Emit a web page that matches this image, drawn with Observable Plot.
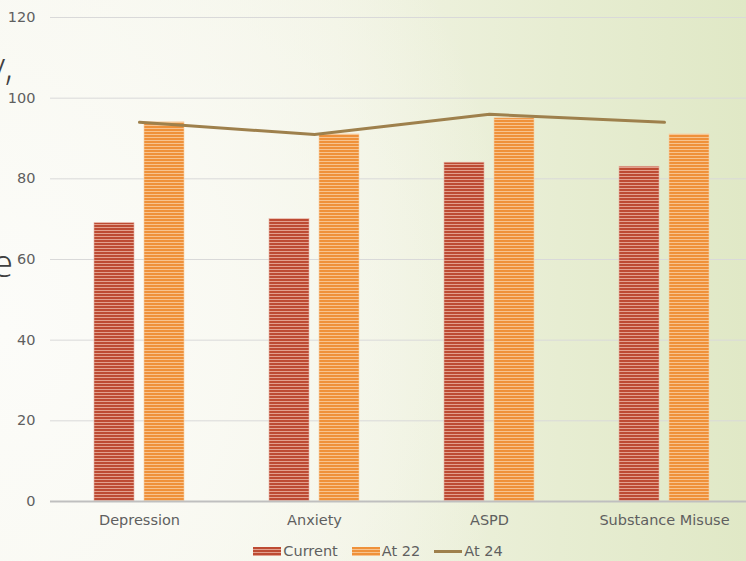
<!DOCTYPE html>
<html>
<head>
<meta charset="utf-8">
<script src="https://cdn.jsdelivr.net/npm/d3@7"></script>
<script src="https://cdn.jsdelivr.net/npm/@observablehq/plot@0.6"></script>
<style>
  html, body { margin: 0; padding: 0; }
  #slide {
    position: relative;
    width: 746px;
    height: 561px;
    overflow: hidden;
    font-family: "DejaVu Sans", sans-serif;
    background:
      radial-gradient(ellipse 520px 620px at 0px 330px, rgba(252,252,249,1) 0%, rgba(250,250,244,0.85) 45%, rgba(250,250,244,0) 100%),
      linear-gradient(90deg, #f8f8f2 0%, #f1f3e3 45%, #e7edd2 75%, #e0e8c6 100%);
  }
  #chart { position: absolute; left: 0; top: 0; }
  .frag {
    position: absolute;
    font-family: "Open Sans", sans-serif;
    font-weight: 300;
    font-size: 38px;
    color: #404040;
    white-space: nowrap;
    text-align: right;
    line-height: 1;
  }
  #legend {
    position: absolute;
    left: 0; width: 746px;
    top: 543px;
    display: flex;
    justify-content: center;
    align-items: center;
    font-size: 14.5px;
    color: #5f5f5f;
    padding-left: 24px;
    box-sizing: border-box;
  }
  .item { display: flex; align-items: center; margin-right: 14px; }
  .sw { width: 28px; height: 9px; margin-right: 2px; }
  .sw.cur { background: repeating-linear-gradient(180deg, #bd4b33 0 2px, #e2a08e 2px 3px); }
  .sw.a22 { background: repeating-linear-gradient(180deg, #ef913a 0 2px, #f7c38e 2px 3px); }
  .sw.a24 { height: 3px; background: #9e804c; }
</style>
</head>
<body>
<div id="slide">
  <div class="frag" style="right:733px; top:46px;">y,</div>
  <div class="frag" style="right:733px; top:243px;">e</div>
  <div id="chart"></div>
  <div id="legend">
    <div class="item"><div class="sw cur"></div><span>Current</span></div>
    <div class="item"><div class="sw a22"></div><span>At 22</span></div>
    <div class="item"><div class="sw a24"></div><span>At 24</span></div>
  </div>
</div>
<script>
// Prevalence by disorder: current vs. at age 22 (bars) and at age 24 (line)
const categories = ["Depression", "Anxiety", "ASPD", "Substance Misuse"];
const current = [69, 70, 84, 83];
const at22 = [94, 91, 95, 91];
const at24 = [94, 91, 96, 94];
const yTicks = [0, 20, 40, 60, 80, 100, 120];

const rows = categories.map((c, i) => ({category: c, current: current[i], at22: at22[i], at24: at24[i]}));

const chart = Plot.plot({
  width: 746,
  height: 538,
  marginLeft: 50,
  marginRight: 0,
  marginTop: 17,
  marginBottom: 37,
  style: {background: "transparent", fontFamily: "DejaVu Sans, sans-serif", fontSize: "14.5px", color: "#5f5f5f", overflow: "visible"},
  x: {domain: categories, range: [50, 752], paddingInner: 0.772, paddingOuter: 0.386, label: null, tickSize: 0, tickPadding: 13},
  y: {domain: [0, 120], ticks: yTicks, label: null, tickSize: 0, tickPadding: 15},
  marks: [
    Plot.gridY(yTicks.filter(d => d > 0), {stroke: "#d9d9d9", strokeOpacity: 1, strokeWidth: 1}),
    Plot.barY(rows, {x: "category", y: "current", dx: -25, fill: "url(#stripeCurrent)", stroke: "#e8b2a4", strokeWidth: 0.6}),
    Plot.barY(rows, {x: "category", y: "at22", dx: 25, fill: "url(#stripeAt22)", stroke: "#f8cfa4", strokeWidth: 0.6}),
    Plot.ruleY([0], {stroke: "#bfbfbf", strokeWidth: 2}),
    Plot.lineY(rows, {x: "category", y: "at24", stroke: "#9e804c", strokeWidth: 3})
  ]
});

// Horizontal stripe fills for the two bar series
const ns = "http://www.w3.org/2000/svg";
const defs = document.createElementNS(ns, "defs");
function stripe(id, dark, light) {
  const p = document.createElementNS(ns, "pattern");
  p.setAttribute("id", id);
  p.setAttribute("patternUnits", "userSpaceOnUse");
  p.setAttribute("width", 4);
  p.setAttribute("height", 3);
  const a = document.createElementNS(ns, "rect");
  a.setAttribute("width", 4); a.setAttribute("height", 3); a.setAttribute("fill", light);
  const b = document.createElementNS(ns, "rect");
  b.setAttribute("width", 4); b.setAttribute("height", 2); b.setAttribute("fill", dark);
  p.appendChild(a); p.appendChild(b);
  defs.appendChild(p);
}
stripe("stripeCurrent", "#bd4b33", "#e2a08e");
stripe("stripeAt22", "#ef913a", "#f7c38e");
chart.insertBefore(defs, chart.firstChild);

document.getElementById("chart").appendChild(chart);
</script>
</body>
</html>
